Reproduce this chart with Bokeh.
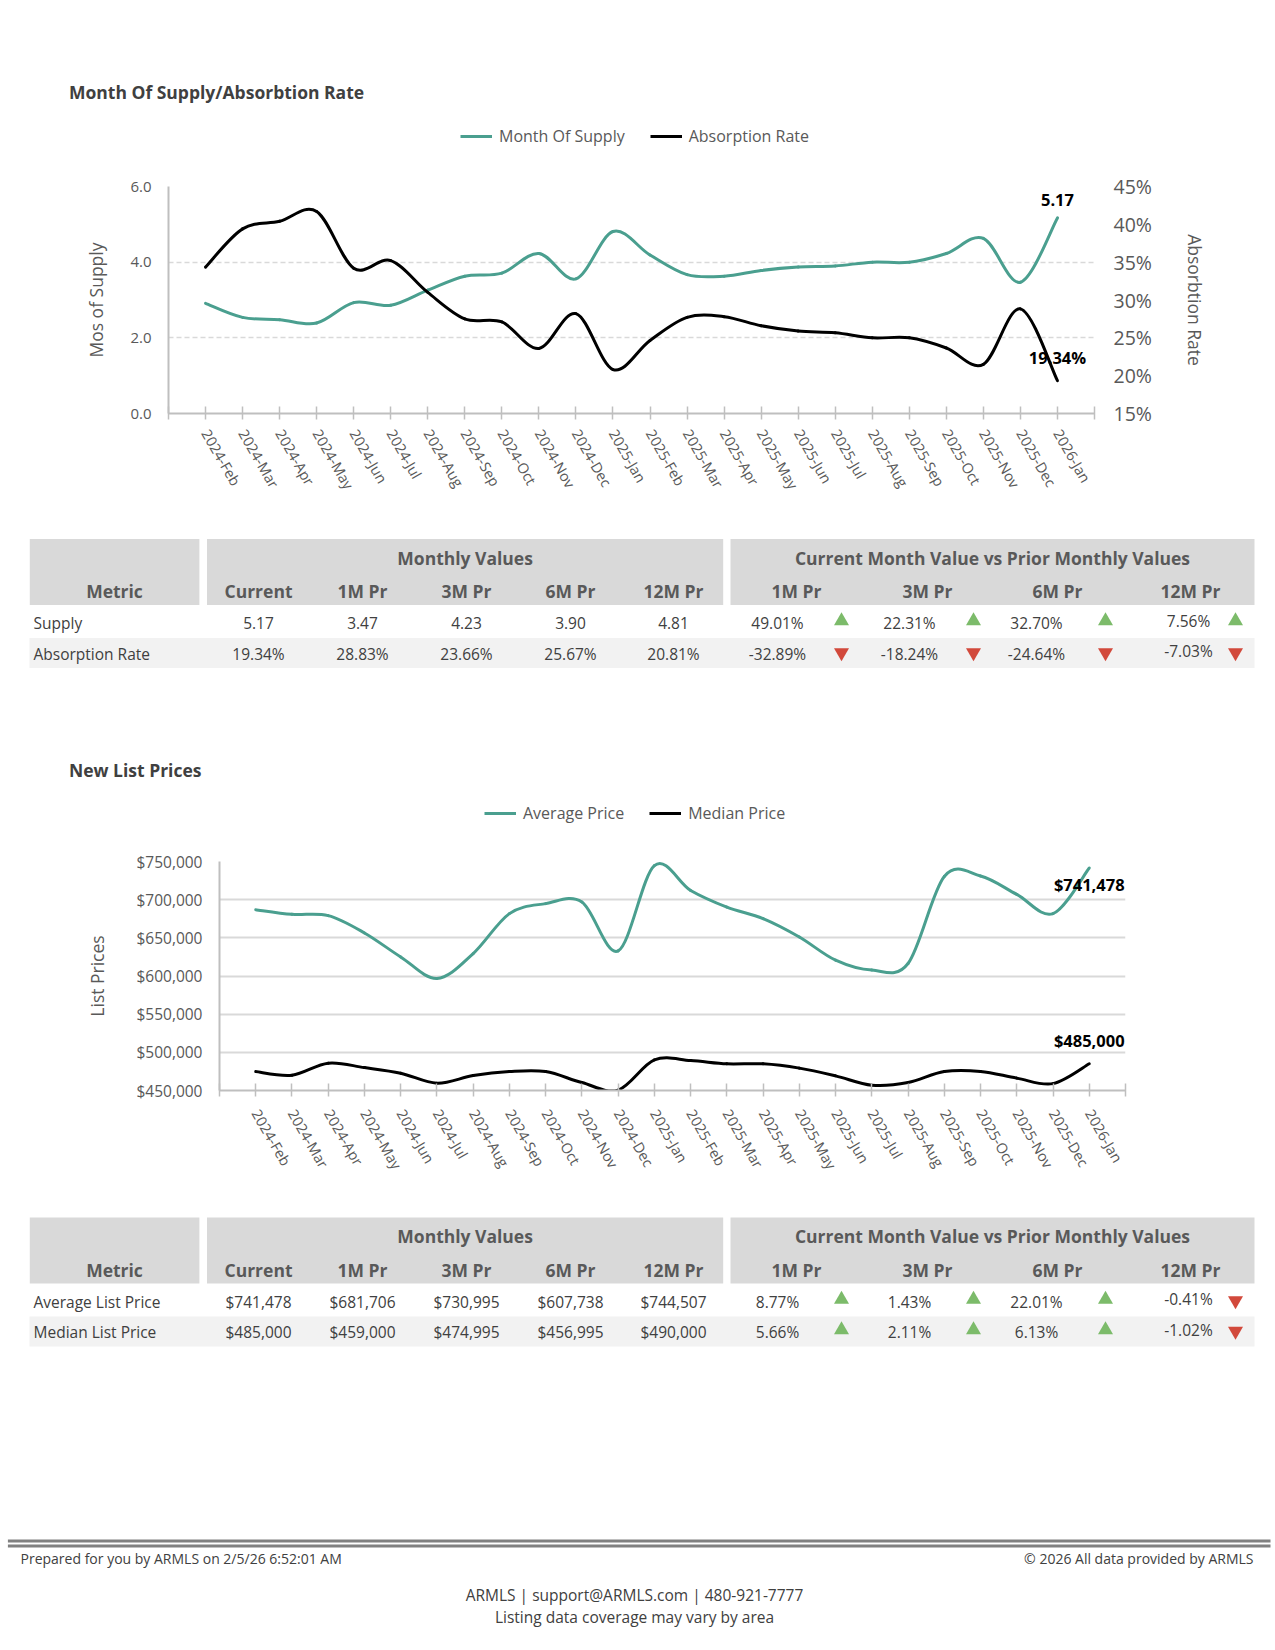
import math
from bokeh.plotting import figure
from bokeh.models import (Range1d, LinearAxis, FixedTicker, Legend, LegendItem,
                          NumeralTickFormatter, PrintfTickFormatter)
from bokeh.core.properties import value
from bokeh.embed import file_html
from bokeh.resources import INLINE

# ---------------- data ----------------
months = ["2024-Feb", "2024-Mar", "2024-Apr", "2024-May", "2024-Jun", "2024-Jul",
          "2024-Aug", "2024-Sep", "2024-Oct", "2024-Nov", "2024-Dec", "2025-Jan",
          "2025-Feb", "2025-Mar", "2025-Apr", "2025-May", "2025-Jun", "2025-Jul",
          "2025-Aug", "2025-Sep", "2025-Oct", "2025-Nov", "2025-Dec", "2026-Jan"]

months_of_supply = [2.91, 2.54, 2.48, 2.39, 2.93, 2.86, 3.26, 3.63, 3.71, 4.23, 3.56, 4.81,
                    4.19, 3.67, 3.63, 3.78, 3.87, 3.90, 4.00, 4.00, 4.23, 4.63, 3.47, 5.17]
absorption_rate = [34.35, 39.4, 40.4, 41.7, 34.2, 35.2, 31.0, 27.5, 27.1, 23.6, 28.2, 20.81,
                   24.65, 27.7, 27.8, 26.6, 25.9, 25.67, 25.0, 25.0, 23.66, 21.5, 28.83, 19.34]

average_price = [686900, 680800, 679100, 656400, 625000, 596800, 629400, 681700, 694800,
                 696900, 632900, 744507, 712100, 690300, 675200, 651100, 620700, 607738,
                 616400, 730400, 730995, 706900, 681706, 741478]
median_price = [474800, 470100, 485800, 480000, 472700, 459600, 469600, 474800, 474800,
                460400, 450500, 490000, 489200, 484900, 484900, 479300, 469200, 456995,
                460400, 474800, 474995, 466200, 459000, 485000]

monthly_headers = ["Current", "1M Pr", "3M Pr", "6M Pr", "12M Pr"]
change_headers = ["1M Pr", "3M Pr", "6M Pr", "12M Pr"]

supply_monthly = [5.17, 3.47, 4.23, 3.90, 4.81]
supply_change = [49.01, 22.31, 32.70, 7.56]
absorption_monthly = [19.34, 28.83, 23.66, 25.67, 20.81]
absorption_change = [-32.89, -18.24, -24.64, -7.03]

avg_list_monthly = [741478, 681706, 730995, 607738, 744507]
avg_list_change = [8.77, 1.43, 22.01, -0.41]
med_list_monthly = [485000, 459000, 474995, 456995, 490000]
med_list_change = [5.66, 2.11, 6.13, -1.02]

# ---------------- style ----------------
FONT = "Open Sans"
TEAL = "#4a9f8f"
BLACK = "#000000"
AX_TXT = "#595959"
DARK_TXT = "#404040"
AX_LINE = "#bfbfbf"
GRID = "#d9d9d9"
HEAD_BG = "#d9d9d9"
BAND_BG = "#f2f2f2"
UP = "#7cbb6a"
DOWN = "#d2493b"
W = 1275


def canvas(h):
    return figure(width=W, height=h, x_range=Range1d(0, W), y_range=Range1d(h, 0),
                  x_axis_type=None, y_axis_type=None, toolbar_location=None,
                  output_backend="svg", min_border=0, outline_line_color=None)


def txt(p, top, x, y, s, size="15px", bold=False, color=DARK_TXT, align="left",
        baseline="middle"):
    p.text(x=[x], y=[y - top], text=[s], text_font=value(FONT),
           text_font_size=size, text_font_style="bold" if bold else "normal",
           text_color=color, text_align=align, text_baseline=baseline)


def make_header(h, top, title, title_y, names, colors, legend_x, legend_cy):
    p = canvas(h)
    txt(p, top, 68.5, title_y, title, size="17.5px", bold=True, color=DARK_TXT)
    items = []
    for nm, c in zip(names, colors):
        r = p.line(x=[-200, -100], y=[-50, -50], line_color=c, line_width=3)
        items.append(LegendItem(label=nm, renderers=[r]))
    leg = Legend(items=items, orientation="horizontal",
                 location=(legend_x, h - (legend_cy - top) - 10),
                 border_line_color=None, background_fill_alpha=0, padding=0, margin=0,
                 spacing=25, label_standoff=7, glyph_width=32, glyph_height=20,
                 label_height=20, label_text_font=FONT, label_text_font_size="16px",
                 label_text_color=AX_TXT, label_text_baseline="middle")
    p.add_layout(leg)
    return p


def bezier_parts(xs, ys):
    n = len(xs)
    d = dict(x0=[], y0=[], x1=[], y1=[], cx0=[], cy0=[], cx1=[], cy1=[])
    for i in range(n - 1):
        a = max(i - 1, 0)
        b = min(i + 2, n - 1)
        d["x0"].append(xs[i]); d["y0"].append(ys[i])
        d["x1"].append(xs[i + 1]); d["y1"].append(ys[i + 1])
        d["cx0"].append(xs[i] + (xs[i + 1] - xs[a]) / 6.0)
        d["cy0"].append(ys[i] + (ys[i + 1] - ys[a]) / 6.0)
        d["cx1"].append(xs[i + 1] - (xs[b] - xs[i]) / 6.0)
        d["cy1"].append(ys[i + 1] - (ys[b] - ys[i]) / 6.0)
    return d


def style_x(p, standoff):
    ticks = list(range(-1, len(months) + 1))
    p.xaxis.ticker = FixedTicker(ticks=ticks)
    overrides = {t: "" for t in ticks}
    for i, m in enumerate(months):
        overrides[i] = m
    p.xaxis.major_label_overrides = overrides
    p.xaxis.major_label_orientation = -math.pi / 3
    p.xaxis.major_label_text_font = FONT
    p.xaxis.major_label_text_font_size = "14.5px"
    p.xaxis.major_label_text_color = AX_TXT
    p.xaxis.major_label_standoff = standoff
    p.xaxis.axis_line_color = AX_LINE
    p.xaxis.axis_line_width = 2
    p.xaxis.major_tick_line_color = AX_LINE
    p.xaxis.major_tick_line_width = 1.5
    p.xaxis.major_tick_in = 7
    p.xaxis.major_tick_out = 6
    p.xaxis.minor_tick_line_color = None
    p.xgrid.visible = False


def style_y(ax, label_standoff, tick_standoff=17, label_size="15px", title_size="17.5px"):
    ax.major_label_text_font = FONT
    ax.major_label_text_font_size = label_size
    ax.major_label_text_color = AX_TXT
    ax.axis_label_text_font = FONT
    ax.axis_label_text_font_size = title_size
    ax.axis_label_text_font_style = "normal"
    ax.axis_label_text_color = AX_TXT
    ax.major_tick_line_color = None
    ax.major_tick_out = 0
    ax.major_tick_in = 0
    ax.minor_tick_line_color = None
    ax.minor_tick_out = 0
    ax.major_label_standoff = tick_standoff
    ax.axis_label_standoff = label_standoff


xs = list(range(len(months)))

# ---------------- header 1 (page y 0-165) ----------------
h1 = make_header(165, 0, "Month Of Supply/Absorbtion Rate", 91,
                 ["Month Of Supply", "Absorption Rate"], [TEAL, BLACK], 460, 137)

# ---------------- chart 1 (page y 165-500) ----------------
c1 = figure(width=W, height=335, x_range=Range1d(-1, 24), y_range=Range1d(0, 6),
            toolbar_location=None, output_backend="svg",
            min_border_left=168, min_border_right=181, min_border_top=21,
            min_border_bottom=84, outline_line_color=None)
c1.extra_y_ranges = {"right": Range1d(15, 45)}
style_x(c1, 11)
c1.yaxis.ticker = FixedTicker(ticks=[0, 2, 4, 6])
c1.yaxis.formatter = NumeralTickFormatter(format="0.0")
c1.yaxis.axis_label = "Mos of Supply"
c1.yaxis.axis_line_color = AX_LINE
c1.yaxis.axis_line_width = 2
style_y(c1.yaxis[0], 19)
c1.ygrid.ticker = FixedTicker(ticks=[2, 4, 6])
c1.ygrid.grid_line_color = GRID
c1.ygrid.grid_line_width = 1.5
c1.ygrid.grid_line_dash = "5 3"

rax = LinearAxis(y_range_name="right", axis_label="Absorbtion Rate",
                 ticker=FixedTicker(ticks=[15, 20, 25, 30, 35, 40, 45]),
                 formatter=PrintfTickFormatter(format="%d%%"))
style_y(rax, 28, tick_standoff=19, label_size="19.5px", title_size="17.5px")
rax.axis_line_color = None
c1.add_layout(rax, "right")

c1.bezier(line_color=TEAL, line_width=3, line_cap="round",
          **bezier_parts(xs, months_of_supply))
c1.bezier(line_color=BLACK, line_width=3, line_cap="round", y_range_name="right",
          **bezier_parts(xs, absorption_rate))
c1.text(x=[xs[-1]], y=[months_of_supply[-1]], text=[f"{months_of_supply[-1]:.2f}"],
        text_font=value(FONT), text_font_style="bold", text_font_size="16.5px",
        text_color=BLACK, text_align="center", text_baseline="bottom", y_offset=-12)
c1.text(x=[xs[-1]], y=[absorption_rate[-1]], text=[f"{absorption_rate[-1]:.2f}%"],
        text_font=value(FONT), text_font_style="bold", text_font_size="16.5px",
        text_color=BLACK, text_align="center", text_baseline="bottom", y_offset=-12,
        y_range_name="right")


# ---------------- tables ----------------
def draw_table(p, top, T, rows):
    p.quad(left=[29.3, 206.5, 730], right=[198.9, 722.7, 1254],
           top=[T - top] * 3, bottom=[T + 66 - top] * 3, fill_color=HEAD_BG, line_color=None)
    p.quad(left=[29], right=[1254], top=[T + 99 - top], bottom=[T + 129 - top],
           fill_color=BAND_BG, line_color=None)
    hy1, hy2 = T + 18.5, T + 52
    hs = "17.5px"
    txt(p, top, 464.6, hy1, "Monthly Values", size=hs, bold=True, color=AX_TXT, align="center")
    txt(p, top, 992, hy1, "Current Month Value vs Prior Monthly Values", size=hs,
        bold=True, color=AX_TXT, align="center")
    txt(p, top, 114, hy2, "Metric", size=hs, bold=True, color=AX_TXT, align="center")
    mx = [258, 362, 466, 570, 673]
    for x, hd in zip(mx, monthly_headers):
        txt(p, top, x, hy2, hd, size=hs, bold=True, color=AX_TXT, align="center")
    cx = [796, 927, 1057, 1190]
    for x, hd in zip(cx, change_headers):
        txt(p, top, x, hy2, hd, size=hs, bold=True, color=AX_TXT, align="center")
    px = [777, 909, 1036, 1188]
    tx = [841, 973, 1105, 1235]
    for k, (name, vals, chg, fmt) in enumerate(rows):
        ry = T + 84 + k * 30.5
        txt(p, top, 33, ry, name, size="15.5px", color=DARK_TXT)
        for x, v in zip(mx, vals):
            txt(p, top, x, ry, fmt(v), size="15.5px", color=DARK_TXT, align="center")
        ups_x, ups_y, dn_x, dn_y = [], [], [], []
        for j, (x, c) in enumerate(zip(px, chg)):
            dy = -2.5 if j == 3 else 0
            txt(p, top, x, ry + dy, f"{c:.2f}%", size="15.5px", color=DARK_TXT, align="center")
            if c >= 0:
                ups_x.append(tx[j]); ups_y.append(ry - 2 - top)
            else:
                dn_x.append(tx[j]); dn_y.append(ry - 1 - top)
        if ups_x:
            p.scatter(x=ups_x, y=ups_y, marker="triangle", size=15, fill_color=UP, line_color=None)
        if dn_x:
            p.scatter(x=dn_x, y=dn_y, marker="inverted_triangle", size=15, fill_color=DOWN,
                      line_color=None)


t1 = canvas(235)  # page y 500-735
draw_table(t1, 500, 538.5, [
    ("Supply", supply_monthly, supply_change, lambda v: f"{v:.2f}"),
    ("Absorption Rate", absorption_monthly, absorption_change, lambda v: f"{v:.2f}%"),
])

# ---------------- header 2 (page y 735-840) ----------------
h2 = make_header(105, 735, "New List Prices", 769.5,
                 ["Average Price", "Median Price"], [TEAL, BLACK], 484, 814)

# ---------------- chart 2 (page y 840-1180) ----------------
c2 = figure(width=W, height=340, x_range=Range1d(-1, 24), y_range=Range1d(450000, 750000),
            toolbar_location=None, output_backend="svg",
            min_border_left=219, min_border_right=150, min_border_top=21,
            min_border_bottom=89, outline_line_color=None)
style_x(c2, 14)
c2.yaxis.ticker = FixedTicker(ticks=list(range(450000, 750001, 50000)))
c2.yaxis.formatter = NumeralTickFormatter(format="$0,0")
c2.yaxis.axis_label = "List Prices"
c2.yaxis.axis_line_color = AX_LINE
c2.yaxis.axis_line_width = 2
style_y(c2.yaxis[0], 24, label_size="15.5px")
c2.ygrid.ticker = FixedTicker(ticks=list(range(500000, 750001, 50000)))
c2.ygrid.grid_line_color = GRID
c2.ygrid.grid_line_width = 2

c2.bezier(line_color=TEAL, line_width=3, line_cap="round", **bezier_parts(xs, average_price))
c2.bezier(line_color=BLACK, line_width=3, line_cap="round", **bezier_parts(xs, median_price))
c2.text(x=[xs[-1]], y=[average_price[-1]], text=[f"${average_price[-1]:,.0f}"],
        text_font=value(FONT), text_font_style="bold", text_font_size="16.5px",
        text_color=BLACK, text_align="center", text_baseline="top", y_offset=5)
c2.text(x=[xs[-1]], y=[median_price[-1]], text=[f"${median_price[-1]:,.0f}"],
        text_font=value(FONT), text_font_style="bold", text_font_size="16.5px",
        text_color=BLACK, text_align="center", text_baseline="bottom", y_offset=-12)

# ---------------- table 2 + footer (page y 1180-1642) ----------------
t2 = canvas(462)
draw_table(t2, 1180, 1217, [
    ("Average List Price", avg_list_monthly, avg_list_change, lambda v: f"${v:,.0f}"),
    ("Median List Price", med_list_monthly, med_list_change, lambda v: f"${v:,.0f}"),
])
t2.segment(x0=[7.4, 7.4], x1=[1270, 1270],
           y0=[1540.5 - 1180, 1545.5 - 1180], y1=[1540.5 - 1180, 1545.5 - 1180],
           line_color="#808080", line_width=2.8)
txt(t2, 1180, 20, 1558, "Prepared for you by ARMLS on 2/5/26 6:52:01 AM", size="14px",
    color=DARK_TXT)
txt(t2, 1180, 1253, 1558, "\u00a9 2026 All data provided by ARMLS", size="14px",
    color=DARK_TXT, align="right")
txt(t2, 1180, 634, 1594, "ARMLS | support@ARMLS.com | 480-921-7777", size="15.5px",
    color=DARK_TXT, align="center")
txt(t2, 1180, 634, 1616, "Listing data coverage may vary by area", size="15.5px",
    color=DARK_TXT, align="center")

p = [h1, c1, t1, h2, c2, t2]
open("out.html", "w").write(file_html(p, INLINE))
